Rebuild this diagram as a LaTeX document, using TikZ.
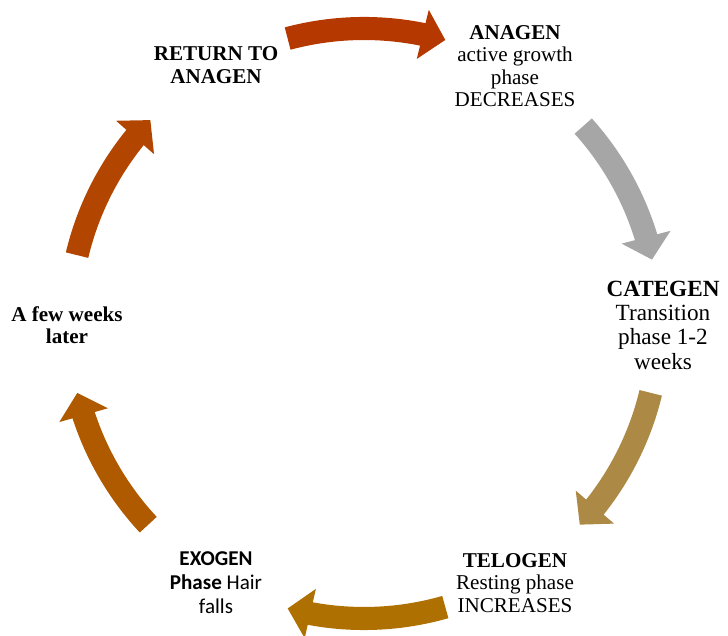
\documentclass[tikz,border=0pt]{standalone}
\usepackage{fontspec}
\setmainfont{Liberation Serif}[BoldFont={Liberation Serif Bold}]
\newfontfamily\calfont{Carlito}[BoldFont={Carlito Bold}]
\usetikzlibrary{arrows.meta,bending}

\definecolor{anagenred}{RGB}{180,56,0}
\definecolor{categray}{RGB}{166,166,166}
\definecolor{telotan}{RGB}{172,138,70}
\definecolor{exobrown}{RGB}{174,112,0}
\definecolor{laterbrown}{RGB}{176,90,0}
\definecolor{returnred}{RGB}{178,70,0}

\tikzset{
  cyclearrow/.style={line width=16.4pt,-{Triangle[length=16.5pt,width=35pt]}},
  phase/.style={align=center,font=\fontsize{15}{16}\selectfont}
}

\begin{document}
\begin{tikzpicture}[x=0.025cm,y=0.025cm]
  \useasboundingbox (0,0) rectangle (728,636);
  \coordinate (c) at (364,312.5);

  \node[phase] (anagen) at (515,570) {\textbf{ANAGEN}\\active growth\\phase\\DECREASES};
  \node[phase,font=\fontsize{16.5}{17.3}\selectfont] (categen) at (663,311) {\textbf{CATEGEN}\\Transition\\phase 1-2\\weeks};
  \node[phase] (telogen) at (515,53) {\textbf{TELOGEN}\\Resting phase\\INCREASES};
  \node[phase,font=\fontsize{15}{17}\calfont] (exogen) at (216,53) {\textbf{EXOGEN}\\\textbf{Phase} Hair\\falls};
  \node[phase] (later) at (67,311) {\textbf{A few weeks}\\\textbf{later}};
  \node[phase,font=\fontsize{15}{16.5}\selectfont] (return) at (216,571) {\textbf{RETURN TO}\\\textbf{ANAGEN}};

  % the cycle
  \draw[cyclearrow,anagenred] (c) ++(105:295) arc[start angle=105,end angle=74,radius=295];
  \draw[cyclearrow,categray] (c) ++(42:295) arc[start angle=42,end angle=12.5,radius=295];
  \draw[cyclearrow,telotan] (c) ++(-13.6:295) arc[start angle=-13.6,end angle=-43,radius=295];
  \draw[cyclearrow,exobrown] (c) ++(-74:295) arc[start angle=-74,end angle=-105,radius=295];
  \draw[cyclearrow,laterbrown] (c) ++(-137:295) arc[start angle=-137,end angle=-166.4,radius=295];
  \draw[cyclearrow,returnred] (c) ++(166.6:295) arc[start angle=166.6,end angle=136.4,radius=295];
\end{tikzpicture}
\end{document}
